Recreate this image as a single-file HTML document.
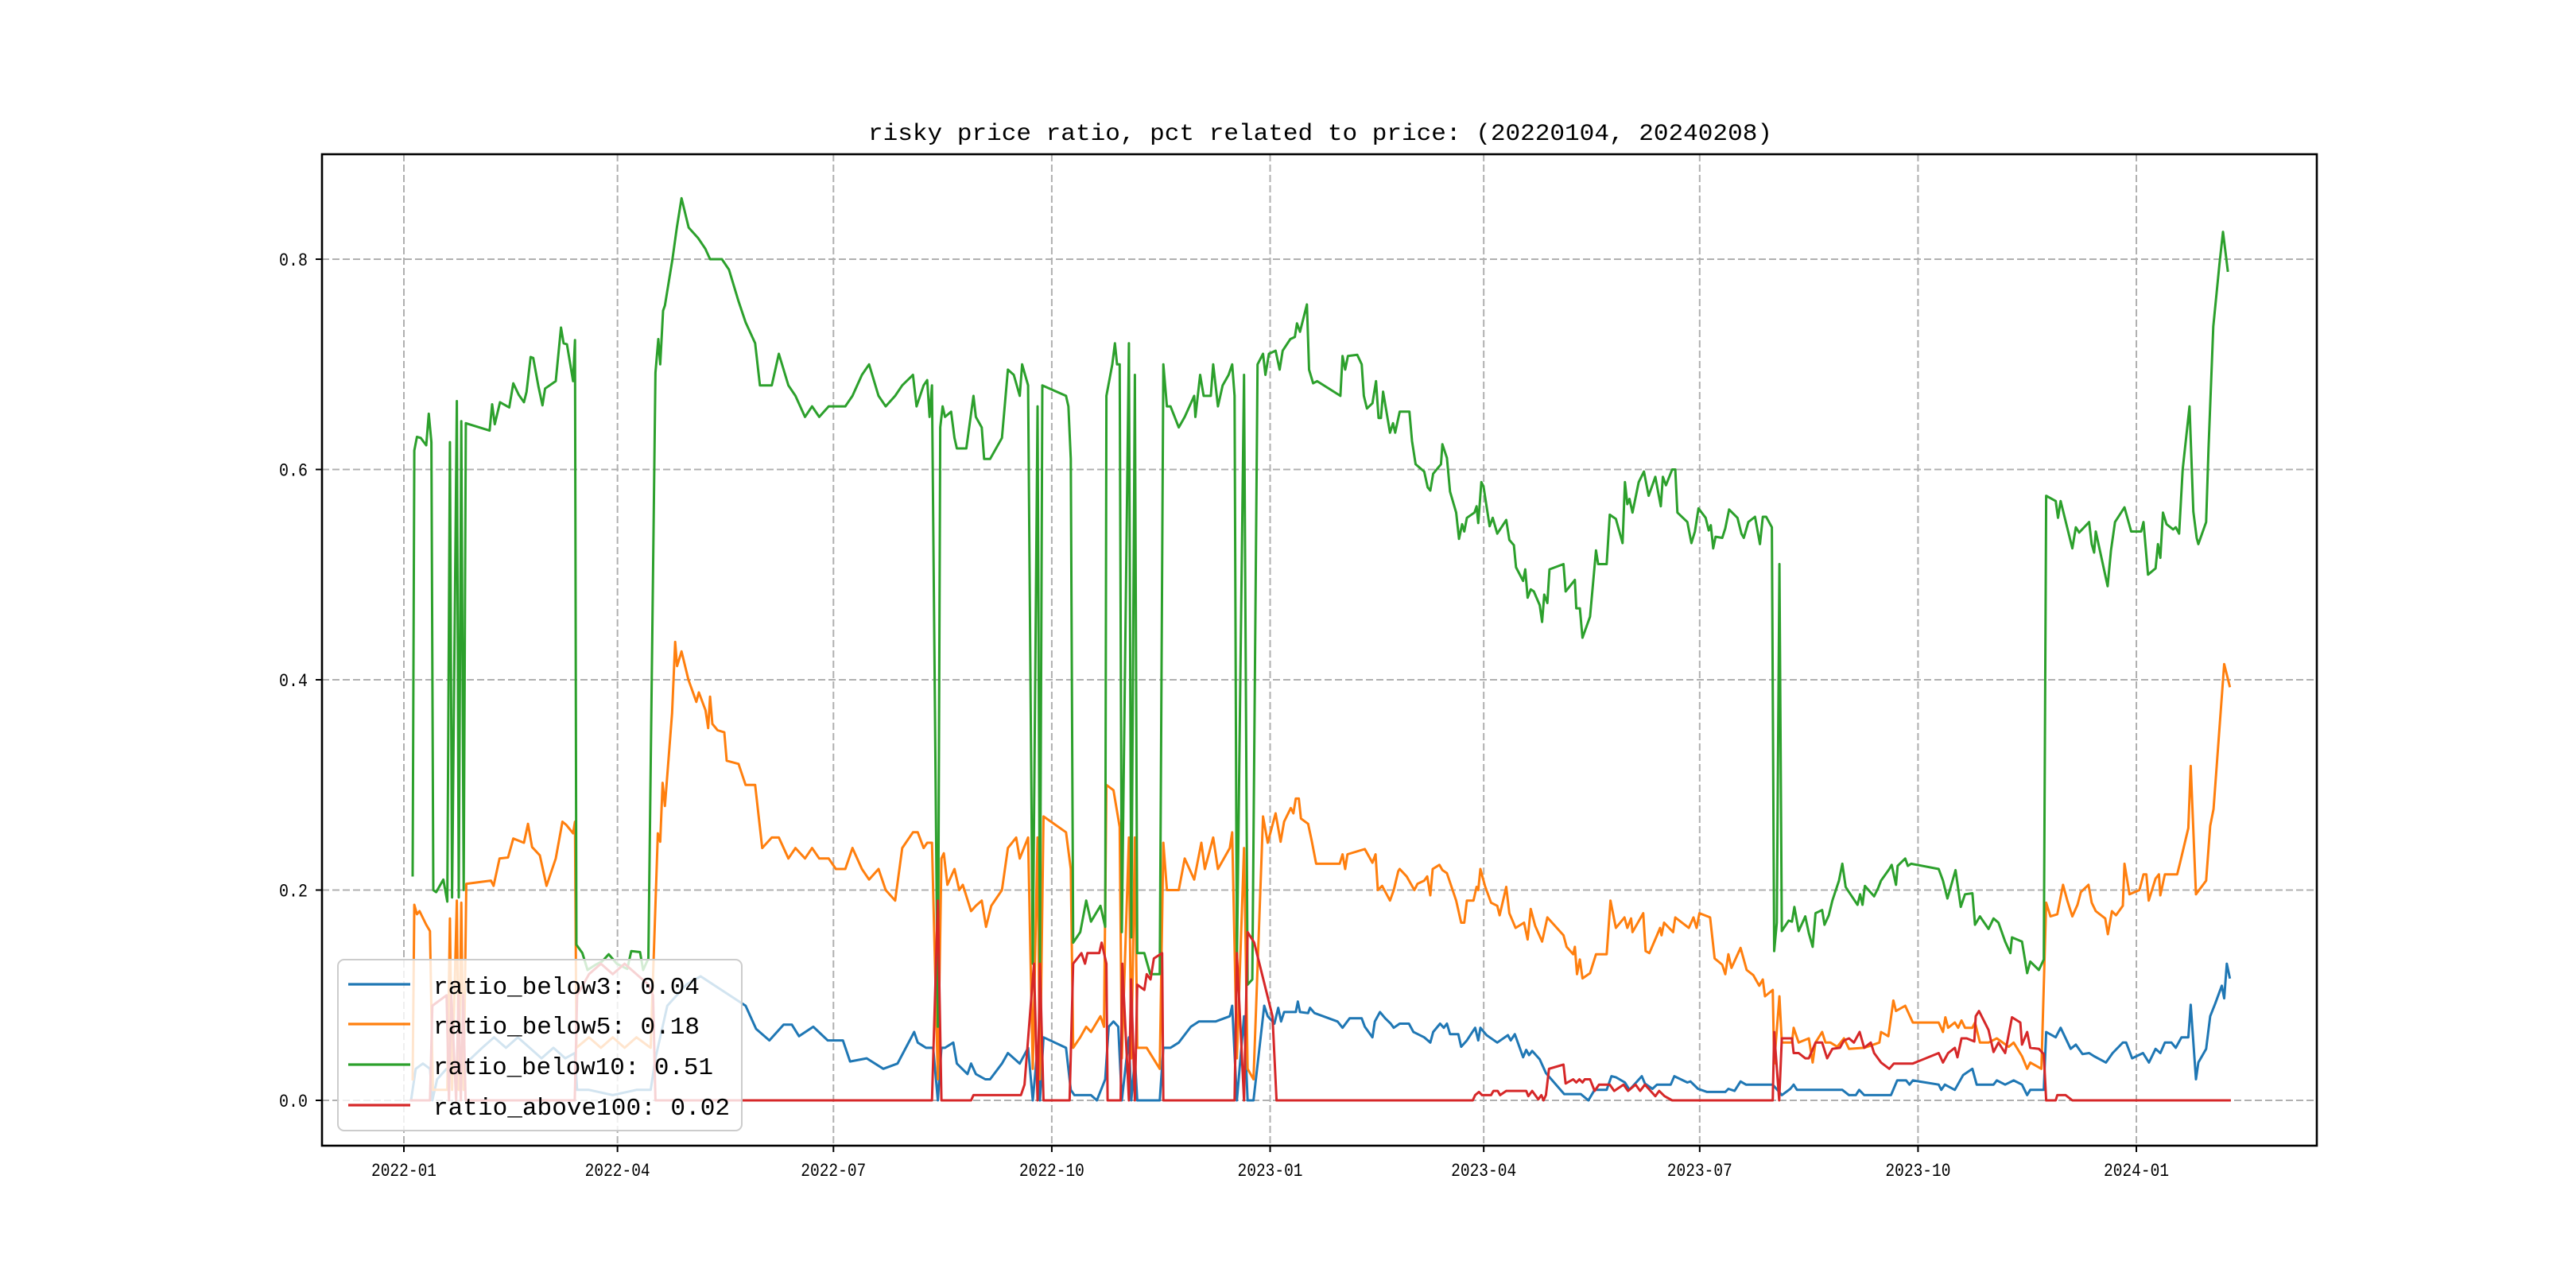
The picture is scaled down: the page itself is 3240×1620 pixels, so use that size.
<!DOCTYPE html>
<html><head><meta charset="utf-8">
<style>
html,body{margin:0;padding:0;background:#fff;}
svg{display:block;}
text{font-family:"Liberation Mono","Noto Sans CJK SC",monospace;fill:#000;}
</style></head>
<body>
<svg id="chart" width="3240" height="1620" viewBox="0 0 3240 1620" xmlns="http://www.w3.org/2000/svg">
<rect x="0" y="0" width="3240" height="1620" fill="#fff"/>
<g id="grid"></g>
<g id="series"></g>
<rect x="405" y="194" width="2509" height="1247" fill="none" stroke="#000" stroke-width="2.6"/>
<g id="ticks"></g>
<text x="1092" y="176" font-size="30" textLength="1137" lengthAdjust="spacingAndGlyphs">risky price ratio, pct related to price: (20220104, 20240208)</text>
<g id="legend">
<rect x="425" y="1207" width="508" height="215" rx="8" ry="8" fill="#fff" fill-opacity="0.8" stroke="#cccccc" stroke-width="2"/>
</g>
</svg>
<script>
// days counted from 2021-12-30
const tickDays = [2, 92, 183, 275, 367, 457, 548, 640, 732];
const tickLabels = ["2022-01","2022-04","2022-07","2022-10","2023-01","2023-04","2023-07","2023-10","2024-01"];
const yTicks = [0.0, 0.2, 0.4, 0.6, 0.8];
const yTickLabels = ["0.0","0.2","0.4","0.6","0.8"];
const seriesNames = ["ratio_below3","ratio_below5","ratio_below10","ratio_above100"];
const legendValues = ["0.04","0.18","0.51","0.02"];
const seriesColors = ["#1f77b4","#ff7f0e","#2ca02c","#d62728"];

const blueDays = [5,7,10,13,14,16,20,28,35,40,45,50,55,60,65,70,74,75,80,90,100,106,108,110,113,117,121,127,146,148,150.4,156,162,165.5,168.5,174.5,180.6,187,190,197,204,210,217,218.5,222,225,227,228.5,230,233.5,235,239.5,241,243,247,249,254,256.5,261.5,265,267,269,270,271.5,281,283,284.5,291.5,294,297.5,299,301,303,304.5,307.5,308.5,310,311,320.5,322,325,328.5,333.6,337,344,350,351,353,356,357.5,360,364.5,366,368.8,370.4,371.6,372.9,377.8,378.7,379.6,383,383.8,385.7,395.4,397.5,400.5,405.6,406.9,410.1,411.1,413.3,415.5,417.8,419.1,421.6,425.5,427.4,431.9,434.5,435.7,438.6,440.2,441.5,442.8,446.3,447.5,449.9,453.4,454.7,455.6,458.2,462.7,467.2,468.4,470.1,473.6,474.9,476.1,477.4,480.6,483.2,490.9,497.9,501.1,503.7,508.8,510.8,512.7,516.5,518.4,523.6,524.9,528.1,530,535.8,537.3,542.8,544.1,547.3,551.1,558.8,560.1,562.7,565.2,567.5,578.8,582.6,586.2,587.6,589,608.1,610.9,613.8,615.2,617.3,628.6,631.2,635,636.4,637.8,648.7,649.8,651.3,655.5,659,662.9,664.7,671.8,673.2,676.7,680.3,683.8,686,687.3,693,694,698,700.1,704.3,706.5,709.3,712.1,714.2,719.2,722,726.3,727.7,730.2,734.8,737.3,740.1,742.1,744,746.8,748.6,751,753.9,754.9,757.1,758.1,761.4,763.1,765.2,768,769,770.1,771.3];
const blueVals = [0.0,0.03,0.035,0.03,0.0,0.02,0.03,0.035,0.05,0.06,0.05,0.06,0.05,0.04,0.05,0.04,0.045,0.01,0.01,0.005,0.01,0.01,0.04,0.06,0.09,0.1,0.11,0.118,0.09,0.08,0.068,0.057,0.072,0.072,0.061,0.07,0.057,0.057,0.037,0.04,0.03,0.035,0.065,0.055,0.05,0.05,0.0,0.05,0.05,0.055,0.035,0.025,0.035,0.025,0.02,0.02,0.035,0.045,0.035,0.05,0.0,0.05,0.0,0.06,0.05,0.01,0.005,0.005,0.0,0.02,0.07,0.075,0.07,0.0,0.06,0.0,0.04,0.0,0.0,0.05,0.05,0.055,0.07,0.075,0.075,0.08,0.09,0.0,0.08,0.0,0.0,0.09,0.08,0.073,0.088,0.075,0.084,0.084,0.094,0.084,0.083,0.088,0.083,0.075,0.069,0.078,0.078,0.07,0.06,0.075,0.084,0.078,0.073,0.069,0.073,0.073,0.065,0.06,0.055,0.065,0.073,0.069,0.073,0.063,0.063,0.051,0.057,0.069,0.057,0.069,0.062,0.055,0.062,0.057,0.063,0.041,0.048,0.043,0.047,0.039,0.026,0.006,0.006,0.0,0.01,0.01,0.023,0.022,0.017,0.01,0.023,0.016,0.011,0.015,0.015,0.023,0.017,0.018,0.011,0.008,0.008,0.011,0.009,0.018,0.015,0.015,0.005,0.011,0.015,0.01,0.01,0.005,0.005,0.01,0.005,0.005,0.019,0.019,0.015,0.019,0.015,0.01,0.015,0.01,0.024,0.03,0.015,0.015,0.019,0.015,0.019,0.015,0.005,0.01,0.01,0.065,0.06,0.069,0.049,0.053,0.044,0.045,0.042,0.036,0.045,0.055,0.055,0.04,0.045,0.036,0.049,0.045,0.055,0.055,0.05,0.06,0.06,0.091,0.02,0.036,0.049,0.08,0.092,0.109,0.097,0.13,0.117];

const orangeDays = [5.7,6.4,7.5,8.6,11.4,13,14.2,20.3,21.4,22.3,24.3,25.1,26.2,27.2,28.3,38.7,39.8,42.3,45.9,48.1,52.6,54.3,56,59.3,62.1,66,68.8,70.4,73.3,74.1,74.7,80,85,90,95,100,106,109,110,111,112,115,116.3,117.1,119,121.9,125.2,126.3,129.1,130.2,131,132,134.2,137,138,143,146,150,153,157,160,164,167,171,174,177,181,184,188,191,195,198,202,205,209,212,216.5,218.5,221,222.5,224.5,227,228.5,229.5,231,234,236,237.5,241,243,245.5,247.3,249.5,254,256.5,260,261.5,265,267,269,270,271.5,281,283,284,287,289.5,291.5,295.5,297,298,301,303.6,304.5,307.5,308.5,310,311,315,320.5,322,323.5,328.5,331,335,338,339.5,343,345,350,351,353,356,357.5,360,364,366,369.3,371.4,372.9,375.7,376.8,377.8,379.1,380,383,384.5,386.4,396.3,397.5,398.6,399.6,406.9,410.1,411.4,412.4,414.2,417.5,419.1,421,421.6,424.5,427.8,429.1,431.9,433.2,434.5,435.5,438.3,439.6,441.5,445.4,447.5,448.8,449.9,452.7,454,454.7,455.6,457.5,460.1,462.7,463.7,466.5,467.8,470.4,474,475.5,476.8,478.7,481.6,483.8,490.6,491.9,494.7,495.4,496.3,497.5,498.6,501.8,504.3,508.8,510.4,512.7,516.3,517.5,519.1,519.7,524.2,525.2,526.8,530,531.3,531.9,533,536.8,537.7,543.4,545.4,546.7,547.9,552.4,554.3,557.5,558.8,560.1,561.4,565.2,567.8,570.6,573.1,574.6,575.5,578.8,579.4,581.6,582.6,586.9,587.6,589.7,594,595.6,596.8,599.6,601,603.1,606,608.8,610.9,617.3,623.7,624.4,627.5,629.6,630.7,634.6,637.8,648.7,650.5,651.5,652.7,655.5,656.9,658.3,659.8,662.9,664,666.1,669.7,673.2,678.2,680.3,683.8,686,687.3,692,694,695.8,698.7,701.1,702.9,705,707.2,708.6,711.8,713.2,714.9,718.9,720,721.7,723.4,726.3,727,729.1,733.3,735,736.2,737.2,740.1,741.5,742.1,744,749.2,750.3,753.9,754.9,757.1,761.4,763.1,764.5,769,771.3];
const orangeVals = [0.02,0.186,0.177,0.18,0.167,0.161,0.01,0.01,0.173,0.01,0.19,0.01,0.188,0.01,0.206,0.209,0.204,0.23,0.231,0.249,0.245,0.263,0.241,0.233,0.204,0.23,0.265,0.262,0.254,0.265,0.05,0.06,0.05,0.06,0.05,0.06,0.05,0.254,0.246,0.302,0.28,0.368,0.436,0.413,0.427,0.4,0.379,0.388,0.371,0.354,0.384,0.358,0.352,0.35,0.323,0.32,0.3,0.3,0.24,0.25,0.25,0.23,0.24,0.23,0.24,0.23,0.23,0.22,0.22,0.24,0.22,0.21,0.22,0.2,0.19,0.24,0.255,0.255,0.24,0.245,0.245,0.02,0.23,0.235,0.205,0.22,0.2,0.205,0.18,0.185,0.19,0.165,0.185,0.2,0.24,0.25,0.23,0.25,0.03,0.25,0.02,0.27,0.255,0.22,0.05,0.06,0.07,0.065,0.08,0.07,0.3,0.295,0.26,0.04,0.25,0.04,0.25,0.05,0.05,0.03,0.245,0.2,0.2,0.23,0.21,0.245,0.22,0.25,0.22,0.24,0.255,0.04,0.24,0.03,0.02,0.27,0.245,0.273,0.246,0.265,0.278,0.273,0.287,0.287,0.268,0.263,0.247,0.225,0.225,0.234,0.22,0.234,0.239,0.226,0.234,0.2,0.204,0.19,0.2,0.218,0.22,0.213,0.2,0.206,0.209,0.213,0.195,0.22,0.224,0.219,0.216,0.19,0.169,0.169,0.19,0.19,0.203,0.2,0.22,0.204,0.188,0.185,0.176,0.203,0.178,0.164,0.169,0.153,0.182,0.166,0.151,0.174,0.157,0.146,0.139,0.146,0.12,0.134,0.116,0.121,0.139,0.139,0.19,0.164,0.174,0.164,0.173,0.16,0.178,0.142,0.14,0.157,0.164,0.157,0.169,0.16,0.174,0.164,0.174,0.164,0.178,0.174,0.135,0.129,0.12,0.139,0.126,0.145,0.124,0.119,0.109,0.115,0.099,0.105,0.035,0.099,0.055,0.055,0.069,0.055,0.059,0.036,0.055,0.065,0.055,0.055,0.051,0.059,0.049,0.05,0.055,0.065,0.061,0.095,0.085,0.09,0.074,0.074,0.065,0.079,0.069,0.074,0.069,0.076,0.069,0.069,0.074,0.055,0.055,0.059,0.051,0.055,0.042,0.03,0.036,0.03,0.188,0.175,0.177,0.205,0.19,0.175,0.186,0.198,0.205,0.188,0.18,0.173,0.158,0.18,0.176,0.185,0.225,0.196,0.2,0.215,0.215,0.19,0.211,0.215,0.195,0.215,0.215,0.225,0.259,0.318,0.196,0.209,0.261,0.277,0.415,0.394];

const greenDays = [5.7,6.4,7.5,9.1,11.4,12.5,13.6,14.4,15.6,18.6,20.3,21.4,22.3,24.3,25.1,26.2,27.2,28.1,38.1,39.2,40.3,42.5,46.4,48.1,50.4,52.6,53.7,55.4,56.5,58.7,60.4,61.5,66,68.2,69.3,70.7,73.3,74.1,74.7,77.2,79.4,82.8,85.5,88.3,91.7,96.1,97.8,101.5,102.8,105,108,109.2,110,111.2,112,115.1,117,119,122,126,129,131,136,139,143,146,150,152,157,160,164,167,171,174,177,181,184,188,191,195,198,202,205,209,212,216.5,218,221,222.5,223.5,224.5,227,228,229,230,232.6,234,235,239,242,243,245.5,246.5,249,254,256.5,259,261.5,262.5,265,267,269,270,271,281,282,283,284,287,289.5,291.5,295.5,297.5,298,300.5,301.6,302.5,303.6,304.5,307.5,308.5,310,311,314,316.5,320.5,322,323.5,325,328.5,331,335,335.5,337.5,339,342,343,345,347,349.5,351,352,353,356,357.5,359.5,361.7,364,365,366.5,369.3,371,372.3,375.5,377.4,378.3,379.6,382.5,383.4,385.1,386.8,396.6,397.5,398.6,399.8,403.7,405.6,406.5,407.8,410.1,411.6,412.7,413.7,414.6,417.5,418.8,419.7,421.6,425.7,426.8,428.3,431.9,433.4,434.5,435.7,439,439.6,441.5,442.8,445.4,446.6,447.9,448.8,449.9,453.1,454,454.7,456,456.9,459.5,460.8,462.7,466.5,467.8,469.7,470.6,473.6,474.5,475.5,476.8,478.1,480.6,481.6,482.5,483.8,484.7,490.6,491.5,495.4,496,497.5,498.6,501.8,504.3,505.2,508.8,510.1,512.7,515.5,516.5,517.5,518.4,519.7,522.3,524.5,526.5,529.3,531.6,532.5,533.8,536.4,537.7,538.6,542.8,544.5,546,547.5,550.5,551.8,552.7,553.7,554.7,557.5,558.8,560.4,563.9,565.6,566.6,568.5,571.3,573.4,574.6,576,578.4,579.4,580.5,581.6,582.6,585.5,586.9,587.9,589.7,592.5,594,595.6,596.8,599.6,600.6,602.4,603.9,606.7,608.1,609.5,610.9,614.5,615.6,616.6,617.6,621.5,623.2,624.4,627.9,628.9,630.7,631.4,634.6,635.7,637.1,648.7,650.5,652.4,655.8,658,659.8,662.9,664,666.1,669.7,671.8,673.9,676.7,678.9,679.6,683.8,686,687.3,690.9,693,694,698,699,700.1,705,706.5,707.9,712.1,713.2,714.2,714.9,719.9,721.3,723,727,729.8,734,735,736.9,740.1,741.1,742.1,743.2,744.7,747.5,748.6,750,751.5,754.4,756,757.4,758.1,761.4,762.4,764.4,767,768.5,770.5];
const greenVals = [0.214,0.618,0.631,0.63,0.623,0.653,0.626,0.2,0.198,0.21,0.189,0.626,0.193,0.665,0.193,0.646,0.2,0.644,0.637,0.662,0.643,0.664,0.659,0.682,0.671,0.664,0.674,0.707,0.706,0.679,0.661,0.677,0.684,0.735,0.72,0.719,0.684,0.723,0.148,0.14,0.124,0.129,0.132,0.139,0.13,0.125,0.142,0.141,0.124,0.135,0.692,0.724,0.7,0.751,0.756,0.799,0.83,0.858,0.83,0.82,0.81,0.8,0.8,0.79,0.76,0.74,0.72,0.68,0.68,0.71,0.68,0.67,0.65,0.66,0.65,0.66,0.66,0.66,0.67,0.69,0.7,0.67,0.66,0.67,0.68,0.69,0.66,0.68,0.685,0.65,0.68,0.07,0.64,0.66,0.65,0.655,0.63,0.62,0.62,0.67,0.65,0.64,0.61,0.61,0.63,0.695,0.69,0.67,0.7,0.68,0.13,0.66,0.13,0.68,0.67,0.66,0.61,0.15,0.16,0.19,0.17,0.185,0.165,0.67,0.7,0.72,0.7,0.7,0.16,0.72,0.155,0.69,0.14,0.14,0.12,0.12,0.7,0.66,0.66,0.64,0.65,0.67,0.65,0.69,0.67,0.67,0.7,0.66,0.68,0.69,0.7,0.67,0.13,0.69,0.11,0.115,0.7,0.71,0.69,0.71,0.713,0.695,0.713,0.724,0.726,0.739,0.731,0.757,0.695,0.682,0.684,0.67,0.708,0.695,0.708,0.709,0.7,0.67,0.658,0.663,0.684,0.649,0.649,0.674,0.635,0.644,0.635,0.655,0.655,0.627,0.605,0.598,0.583,0.58,0.596,0.605,0.624,0.611,0.579,0.559,0.534,0.548,0.541,0.554,0.559,0.565,0.549,0.588,0.584,0.546,0.554,0.539,0.552,0.533,0.528,0.507,0.494,0.505,0.478,0.486,0.484,0.471,0.455,0.481,0.473,0.505,0.51,0.484,0.495,0.468,0.468,0.44,0.46,0.523,0.51,0.51,0.557,0.553,0.53,0.588,0.567,0.572,0.559,0.588,0.598,0.575,0.593,0.565,0.593,0.585,0.6,0.6,0.559,0.55,0.53,0.541,0.563,0.554,0.542,0.547,0.525,0.536,0.535,0.544,0.562,0.554,0.539,0.535,0.55,0.555,0.529,0.555,0.555,0.545,0.142,0.169,0.51,0.161,0.171,0.17,0.184,0.161,0.175,0.159,0.146,0.178,0.181,0.167,0.176,0.19,0.209,0.225,0.203,0.198,0.186,0.196,0.186,0.204,0.194,0.202,0.209,0.22,0.224,0.205,0.223,0.23,0.223,0.225,0.22,0.209,0.192,0.219,0.184,0.196,0.197,0.167,0.175,0.163,0.173,0.169,0.151,0.14,0.155,0.151,0.121,0.132,0.124,0.134,0.575,0.57,0.554,0.57,0.525,0.545,0.54,0.55,0.529,0.521,0.541,0.489,0.523,0.55,0.564,0.541,0.541,0.55,0.5,0.506,0.529,0.516,0.559,0.548,0.543,0.545,0.539,0.6,0.66,0.56,0.535,0.529,0.55,0.62,0.736,0.795,0.826,0.789];

const redDays = [5,13,14,20,21,22,24,25,26,27,28,74,75,80,85,90,95,100,105,107,108,224.5,227,228.5,241,242,262,263.5,267.5,269,270,271.5,282.5,284,287.5,289,290,295,296,298,298.5,304,304.7,307.5,308.4,310,311,314,315,316.6,318,321.5,322,352,353,356,357.5,360.3,368,369.7,452.4,453.4,455,456.3,460.1,461.1,462.9,463.9,466.5,474.9,475.8,477.4,480,481.3,482.2,483.2,484.5,490.6,491.5,494.7,496,497.3,498.6,499.6,501.8,503.7,505.6,510.1,512,515.9,517.8,521,522.9,524.9,529.3,530.9,533.2,536.4,578.8,579.4,581.5,582.6,586.9,587.6,589.7,592.5,594,596.8,599.6,601.7,603.9,607.1,608.8,610.9,613,615.4,617.3,620.1,621.5,624.4,627.9,629.8,631.4,637.8,648.7,650.5,652.7,655.5,656.6,658.3,660.5,663.7,664.3,665.7,669.7,671.8,673.9,676.7,679.6,683.1,683.8,686,687.3,690.9,693,694,698,698.7,702.2,705,771.3];
const redVals = [0.0,0.0,0.09,0.1,0.0,0.1,0.0,0.1,0.0,0.1,0.0,0.0,0.1,0.12,0.13,0.12,0.13,0.12,0.11,0.1,0.0,0.0,0.19,0.0,0.0,0.005,0.005,0.015,0.13,0.0,0.13,0.0,0.0,0.13,0.14,0.13,0.14,0.14,0.15,0.13,0.0,0.0,0.13,0.0,0.115,0.0,0.11,0.105,0.12,0.115,0.135,0.14,0.0,0.0,0.14,0.0,0.16,0.15,0.08,0.0,0.0,0.005,0.008,0.005,0.005,0.009,0.009,0.005,0.009,0.009,0.004,0.009,0.001,0.005,0.0,0.005,0.03,0.034,0.016,0.02,0.017,0.02,0.017,0.02,0.02,0.009,0.015,0.015,0.009,0.015,0.009,0.015,0.009,0.015,0.004,0.009,0.004,0.0,0.0,0.065,0.0,0.059,0.059,0.045,0.045,0.04,0.04,0.055,0.055,0.04,0.049,0.05,0.057,0.059,0.055,0.065,0.05,0.055,0.045,0.036,0.03,0.035,0.035,0.035,0.045,0.036,0.045,0.05,0.041,0.059,0.059,0.056,0.08,0.085,0.067,0.046,0.055,0.045,0.079,0.074,0.053,0.065,0.05,0.049,0.044,0.0,0.0,0.005,0.005,0.0,0.0];

const NS = "http://www.w3.org/2000/svg";
const L = 405, R = 2914, T = 194, B = 1441;
function xScale(d){ return 502.03 + d * 2.985; }
function yScale(v){ return 1384 - v * 1322.5; }
function mk(tag, attrs, parent){
  const el = document.createElementNS(NS, tag);
  for (const k in attrs) el.setAttribute(k, attrs[k]);
  parent.appendChild(el);
  return el;
}
const grid = document.getElementById('grid');
const ticks = document.getElementById('ticks');
tickDays.forEach((d, i) => {
  const x = xScale(d);
  const g = mk('line', {x1:x, x2:x, y1:T, y2:B, stroke:'#b0b0b0', 'stroke-width':2, 'stroke-dasharray':'9,4'}, grid);
  
  
  const t = mk('line', {x1:x, x2:x, y1:B, y2:B+8, stroke:'#000', 'stroke-width':2}, ticks);
  
  
  const lb = mk('text', {x:x, y:B+38, 'font-size':23, 'text-anchor':'middle', textLength:82, lengthAdjust:'spacingAndGlyphs'}, ticks);
  lb.textContent = tickLabels[i];
  
  
});
yTicks.forEach((v, i) => {
  const y = yScale(v);
  const g = mk('line', {x1:L, x2:R, y1:y, y2:y, stroke:'#b0b0b0', 'stroke-width':2, 'stroke-dasharray':'9,4'}, grid);
  
  
  const t = mk('line', {x1:L-8, x2:L, y1:y, y2:y, stroke:'#000', 'stroke-width':2}, ticks);
  
  
  const lb = mk('text', {x:387, y:y+8, 'font-size':23, 'text-anchor':'end', textLength:36, lengthAdjust:'spacingAndGlyphs'}, ticks);
  lb.textContent = yTickLabels[i];
  
  
});
const seriesDays = [blueDays, orangeDays, greenDays, redDays];
const seriesVals = [blueVals, orangeVals, greenVals, redVals];
const sg = document.getElementById('series');
seriesDays.forEach((days, s) => {
  const vals = seriesVals[s];
  const pts = days.map((d, i) => xScale(d).toFixed(1) + ',' + yScale(vals[i]).toFixed(1)).join(' ');
  const pl = mk('polyline', {points:pts, fill:'none', stroke:seriesColors[s], 'stroke-width':3, 'stroke-linejoin':'round', 'stroke-linecap':'square'}, sg);
  
  
});
const lg = document.getElementById('legend');
const rowY = [1238, 1288, 1339, 1390];
const textW = [335, 335, 352, 373];
seriesNames.forEach((n, i) => {
  const h = mk('line', {x1:438, x2:516, y1:rowY[i], y2:rowY[i], stroke:seriesColors[i], 'stroke-width':3.2}, lg);
  
  
  const t = mk('text', {x:545, y:rowY[i]+12, 'font-size':31, textLength:textW[i], lengthAdjust:'spacingAndGlyphs'}, lg);
  t.textContent = n + ': ' + legendValues[i];
  
  
});
</script>
</body></html>
